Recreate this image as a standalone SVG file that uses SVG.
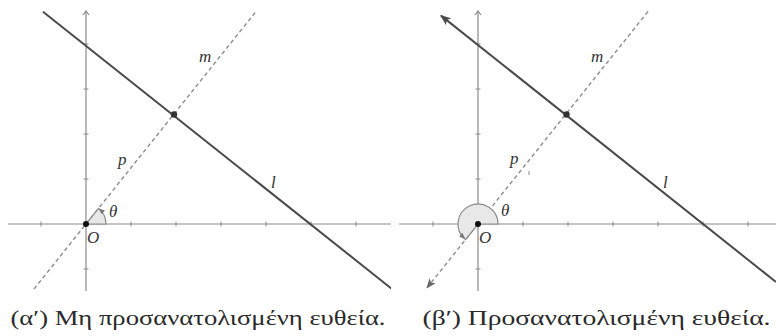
<svg xmlns="http://www.w3.org/2000/svg" width="776" height="336" viewBox="0 0 776 336">
<style>
.axis{stroke:#8a8a8a;stroke-width:1.2;fill:none}
.tick{stroke:#8a8a8a;stroke-width:1}
.lineL{stroke:#4a4a4a;stroke-width:2;fill:none}
.lineM{stroke:#8c8c8c;stroke-width:1.4;fill:none;stroke-dasharray:4 3}
.lab{font-family:"Liberation Serif","DejaVu Serif",serif;font-style:italic;font-size:17px;fill:#333}
.cap{font-family:"Liberation Serif","DejaVu Serif",serif;font-size:21px;fill:#2a2a2a}
.sector{fill:#e8e8e8;stroke:#8a8a8a;stroke-width:1.2}
.ahead{fill:#777}
</style>
<defs>
<marker id="arrL" viewBox="0 0 10 8" refX="9" refY="4" markerWidth="11" markerHeight="9" markerUnits="userSpaceOnUse" orient="auto-start-reverse">
<path d="M0,0 L10,4 L0,8 L2.5,4 Z" fill="#4a4a4a"/>
</marker>
<marker id="arrM" viewBox="0 0 10 8" refX="9" refY="4" markerWidth="10" markerHeight="8" markerUnits="userSpaceOnUse" orient="auto-start-reverse">
<path d="M0,0 L10,4 L0,8 L2.5,4 Z" fill="#666"/>
</marker>
<clipPath id="clipLeft"><rect x="0" y="0" width="391" height="292"/></clipPath>
</defs>

<!-- Left panel -->
<g id="panelA" clip-path="url(#clipLeft)">
<g id="axesA">
<line class="axis" x1="8" y1="224" x2="391" y2="224"/>
<line class="axis" x1="86" y1="11" x2="86" y2="291"/>
<path class="axis" d="M83,15 L86,11 L89,15"/>
<g class="tick">
<line x1="41" y1="221.5" x2="41" y2="226.5"/>
<line x1="131" y1="221.5" x2="131" y2="226.5"/>
<line x1="176" y1="221.5" x2="176" y2="226.5"/>
<line x1="221" y1="221.5" x2="221" y2="226.5"/>
<line x1="266" y1="221.5" x2="266" y2="226.5"/>
<line x1="311" y1="221.5" x2="311" y2="226.5"/>
<line x1="356" y1="221.5" x2="356" y2="226.5"/>
<line x1="83.5" y1="44" x2="88.5" y2="44"/>
<line x1="83.5" y1="89" x2="88.5" y2="89"/>
<line x1="83.5" y1="134" x2="88.5" y2="134"/>
<line x1="83.5" y1="179" x2="88.5" y2="179"/>
<line x1="83.5" y1="269" x2="88.5" y2="269"/>
</g>
</g>
<g id="connectorsA">
<line id="mA" class="lineM" x1="34" y1="289" x2="257" y2="10.25"/>
<line id="lA" class="lineL" x1="43" y1="11.8" x2="392" y2="289"/>
</g>
<g id="angleA">
<path class="sector" d="M86,224 L106,224 A20,20 0 0 0 98.5,208.4 Z"/>
<path class="ahead" d="M98.5,208.4 L101.8,214.3 L104.9,210.4 Z"/>
</g>
<g id="pointsA">
<circle id="OA" cx="86" cy="224" r="3" fill="#111"/>
<circle id="PA" cx="174" cy="114.5" r="3.2" fill="#333"/>
</g>
<g id="labelsA">
<text class="lab" x="199" y="62">m</text>
<text class="lab" x="118" y="165">p</text>
<text class="lab" x="271" y="188">l</text>
<text class="lab" x="109" y="217">θ</text>
<text class="lab" x="87" y="243">O</text>
</g>
</g>

<!-- Right panel -->
<g id="panelB">
<g id="axesB">
<line class="axis" x1="399" y1="224" x2="776" y2="224"/>
<line class="axis" x1="478" y1="11" x2="478" y2="291"/>
<path class="axis" d="M475,15 L478,11 L481,15"/>
<g class="tick">
<line x1="433" y1="221.5" x2="433" y2="226.5"/>
<line x1="523" y1="221.5" x2="523" y2="226.5"/>
<line x1="568" y1="221.5" x2="568" y2="226.5"/>
<line x1="613" y1="221.5" x2="613" y2="226.5"/>
<line x1="658" y1="221.5" x2="658" y2="226.5"/>
<line x1="703" y1="221.5" x2="703" y2="226.5"/>
<line x1="748" y1="221.5" x2="748" y2="226.5"/>
<line x1="475.5" y1="44" x2="480.5" y2="44"/>
<line x1="475.5" y1="89" x2="480.5" y2="89"/>
<line x1="475.5" y1="134" x2="480.5" y2="134"/>
<line x1="475.5" y1="179" x2="480.5" y2="179"/>
<line x1="475.5" y1="269" x2="480.5" y2="269"/>
</g>
</g>
<g id="connectorsB">
<line id="mB" class="lineM" x1="648" y1="11.5" x2="427" y2="287.75" marker-end="url(#arrM)"/>
<line id="lB" class="lineL" x1="441" y1="15.6" x2="776" y2="282" marker-start="url(#arrL)"/>
<line class="tick" x1="529" y1="171" x2="529" y2="175"/>
</g>
<g id="angleB">
<path class="sector" d="M478,224 L498,224 A20,20 0 1 0 465.5,239.6 Z"/>
<path class="ahead" d="M465.5,239.6 L459.3,236.6 L462.3,232.8 Z"/>
</g>
<g id="pointsB">
<circle id="OB" cx="478" cy="224" r="3" fill="#111"/>
<circle id="PB" cx="566.5" cy="114.5" r="3.2" fill="#333"/>
</g>
<g id="labelsB">
<text class="lab" x="591" y="62">m</text>
<text class="lab" x="510" y="164">p</text>
<text class="lab" x="663" y="188">l</text>
<text class="lab" x="501" y="216">θ</text>
<text class="lab" x="479" y="243">O</text>
</g>
</g>

<g id="captions">
<text class="cap" x="10.5" y="325" textLength="375" lengthAdjust="spacingAndGlyphs">(α′) Μη προσανατολισμένη ευθεία.</text>
<text class="cap" x="422.5" y="325" textLength="348" lengthAdjust="spacingAndGlyphs">(β′) Προσανατολισμένη ευθεία.</text>
</g>
</svg>
